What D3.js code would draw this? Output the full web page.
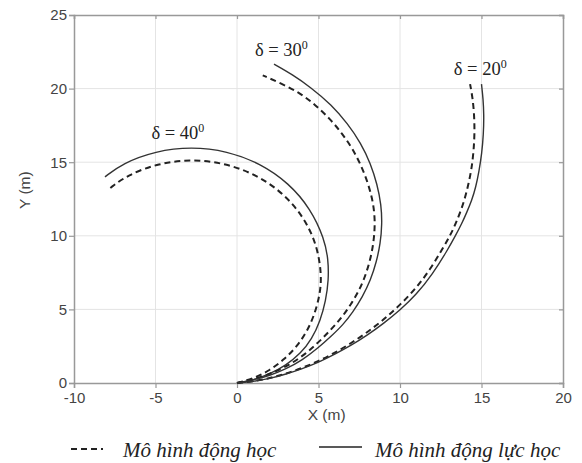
<!DOCTYPE html>
<html>
<head>
<meta charset="utf-8">
<script src="https://cdn.jsdelivr.net/npm/d3@7"></script>
<style>
  body { margin: 0; background: #fff; }
  .tick text { font-family: "Liberation Sans", Arial, sans-serif; font-size: 15px; fill: #444; }
  .annot { font-family: "Liberation Serif", "Times New Roman", serif; font-size: 18.5px; fill: #222; }
  .legend-text { font-family: "Liberation Serif", "Times New Roman", serif; font-style: italic; font-size: 21px; fill: #222; }
</style>
</head>
<body>
<div id="chart-area"></div>
<script>

// Data (X, Y in metres)
var xTicks = [-10, -5, 0, 5, 10, 15, 20];
var yTicks = [0, 5, 10, 15, 20, 25];

var solid40 = [[0,0],[1.0,0.2],[2.0,0.6],[3.0,1.2],[3.9,2.0],[4.6,3.0],[5.1,4.2],[5.45,5.6],[5.62,7.0],[5.6,8.4],[5.36,9.8],[4.52,11.83],[3.18,13.58],[1.43,14.92],[-0.61,15.76],[-2.8,16.05],[-4.99,15.76],[-7.03,14.92],[-8.1,14.0]];
var dash40 = [[0,0],[1.0,0.3],[2.0,0.85],[2.9,1.6],[3.7,2.5],[4.35,3.6],[4.8,4.8],[5.08,6.0],[5.2,7.25],[4.93,9.31],[4.13,11.23],[2.87,12.87],[1.23,14.13],[-0.69,14.93],[-2.75,15.2],[-4.81,14.93],[-6.73,14.13],[-7.83,13.2]];

var solid30 = [[0,0],[1,0.2],[2,0.5],[3,0.95],[4,1.55],[5,2.4],[5.8,3.2],[6.5,3.95],[7.1,4.8],[7.7,5.85],[8.2,7.0],[8.55,8.2],[8.8,9.5],[8.9,10.8],[8.85,12.1],[8.6,13.5],[8.2,14.9],[7.6,16.3],[6.8,17.6],[5.8,18.9],[4.5,20.1],[3.4,20.95],[2.27,21.66]];
var dash30 = [[0,0],[1,0.25],[2,0.6],[3,1.1],[4,1.8],[4.9,2.65],[5.7,3.55],[6.4,4.4],[7.0,5.35],[7.55,6.4],[7.95,7.5],[8.25,8.7],[8.42,9.9],[8.47,11.1],[8.35,12.3],[8.06,13.5],[7.65,14.7],[7.1,15.9],[6.45,16.95],[5.7,17.95],[4.8,18.9],[3.87,19.7],[2.7,20.35],[1.58,20.9]];

var solid20 = [[0,0],[1,0.1],[2,0.3],[3,0.6],[4,0.97],[5,1.4],[6,1.95],[7,2.55],[8,3.25],[9,4.05],[10,4.95],[11,6.0],[12,7.4],[12.9,9.0],[13.4,10.0],[13.8,10.85],[14.1,11.6],[14.4,12.4],[14.65,13.3],[14.85,14.4],[15.02,15.6],[15.12,16.9],[15.15,18.2],[15.1,19.3],[15.0,20.3]];
var dash20 = [[0,0],[1,0.11],[2,0.32],[3,0.63],[4,1.02],[5,1.48],[6,2.05],[7,2.7],[8,3.45],[9,4.3],[10,5.3],[11,6.45],[11.84,7.7],[12.6,9.1],[13.17,10.2],[13.6,11.3],[13.95,12.4],[14.2,13.5],[14.4,14.6],[14.52,15.8],[14.58,17.0],[14.55,18.3],[14.45,19.4],[14.3,20.3]];

var labels = [
  {text: "40", x: -5.25, y: 16.6},
  {text: "30", x: 1.1, y: 22.2},
  {text: "20", x: 13.3, y: 20.9}
];

// SVG drawing area
var margin = {top: 15, right: 19, bottom: 80, left: 74};
var width = 582 - margin.left - margin.right,
    height = 463 - margin.top - margin.bottom;

var svg = d3.select("#chart-area").append("svg")
    .attr("width", 582)
    .attr("height", 463);

var g = svg.append("g")
    .attr("transform", "translate(" + margin.left + "," + margin.top + ")");

// Scales
var x = d3.scaleLinear().domain([-10, 20]).range([0, width]);
var y = d3.scaleLinear().domain([0, 25]).range([height, 0]);

// Grid
g.append("g").selectAll("line").data(xTicks.slice(1, -1)).enter().append("line")
    .attr("x1", function(d) { return x(d); }).attr("x2", function(d) { return x(d); })
    .attr("y1", 0).attr("y2", height)
    .attr("stroke", "#e4e4e4").attr("stroke-width", 1);
g.append("g").selectAll("line").data(yTicks.slice(1, -1)).enter().append("line")
    .attr("y1", function(d) { return y(d); }).attr("y2", function(d) { return y(d); })
    .attr("x1", 0).attr("x2", width)
    .attr("stroke", "#e4e4e4").attr("stroke-width", 1);

// Axes
var fmt = function(d) { return String(d); };
var xAxis = d3.axisBottom(x).tickValues(xTicks).tickSize(5).tickPadding(4).tickFormat(fmt);
var yAxis = d3.axisLeft(y).tickValues(yTicks).tickSize(5).tickPadding(2).tickFormat(fmt);

var gx = g.append("g").attr("transform", "translate(0," + height + ")").call(xAxis);
var gy = g.append("g").call(yAxis);
var gt = g.append("g").call(d3.axisTop(x).tickValues(xTicks).tickSize(-4).tickFormat(""));
var gr = g.append("g").attr("transform", "translate(" + width + ",0)")
    .call(d3.axisRight(y).tickValues(yTicks).tickSize(-4).tickFormat(""));

[gx, gy, gt, gr].forEach(function(a) {
  a.select(".domain").attr("stroke", "#999").attr("stroke-width", 1.5);
  a.selectAll(".tick line").attr("stroke", "#999").attr("stroke-width", 1.2);
});

// Axis titles
g.append("text")
    .attr("x", x(5.5)).attr("y", height + 37)
    .attr("text-anchor", "middle")
    .style("font-family", "Liberation Sans, Arial, sans-serif")
    .style("font-size", "15.5px").style("fill", "#444")
    .text("X (m)");

svg.append("text")
    .attr("transform", "translate(30," + (margin.top + y(13.1)) + ") rotate(-90)")
    .attr("text-anchor", "middle")
    .style("font-family", "Liberation Sans, Arial, sans-serif")
    .style("font-size", "15.5px").style("fill", "#444")
    .text("Y (m)");

// Curves
var line = d3.line()
    .x(function(d) { return x(d[0]); })
    .y(function(d) { return y(d[1]); })
    .curve(d3.curveBasis);

var series = [
  {data: dash40, dashed: true}, {data: solid40, dashed: false},
  {data: dash30, dashed: true}, {data: solid30, dashed: false},
  {data: dash20, dashed: true}, {data: solid20, dashed: false}
];

g.selectAll(".curve").data(series).enter().append("path")
    .attr("class", "curve")
    .attr("d", function(d) { return line(d.data); })
    .attr("fill", "none")
    .attr("stroke", function(d) { return d.dashed ? "#222" : "#333"; })
    .attr("stroke-width", function(d) { return d.dashed ? 2 : 1.4; })
    .attr("stroke-dasharray", function(d) { return d.dashed ? "6,4" : null; });

// Delta labels
var ann = g.selectAll(".annot").data(labels).enter().append("text")
    .attr("class", "annot")
    .attr("x", function(d) { return x(d.x); })
    .attr("y", function(d) { return y(d.y); });
ann.append("tspan").text(function(d) { return "\u03b4 = " + d.text; });
ann.append("tspan").attr("dy", -7).style("font-size", "12px").text("0");

// Legend
var legend = svg.append("g");
legend.append("line")
    .attr("x1", 71).attr("x2", 103).attr("y1", 449).attr("y2", 449)
    .attr("stroke", "#222").attr("stroke-width", 2).attr("stroke-dasharray", "6,4");
legend.append("text").attr("class", "legend-text")
    .attr("x", 123).attr("y", 457).text("Mô hình động học");
legend.append("line")
    .attr("x1", 319).attr("x2", 362).attr("y1", 447).attr("y2", 447)
    .attr("stroke", "#222").attr("stroke-width", 1.6);
legend.append("text").attr("class", "legend-text")
    .attr("x", 375).attr("y", 457).text("Mô hình động lực học");

</script>
</body>
</html>
